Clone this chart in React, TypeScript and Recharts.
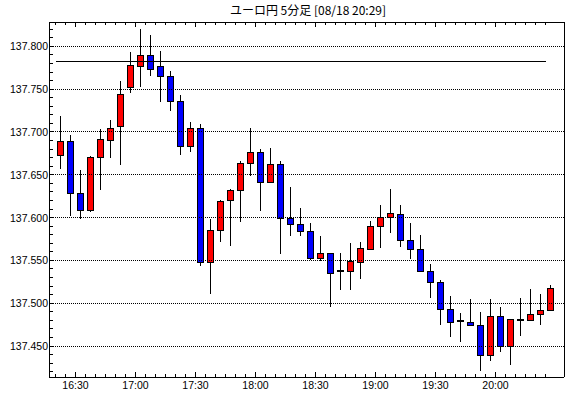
import React from 'react'
import { Bar, ComposedChart, ReferenceLine, XAxis, YAxis } from 'recharts'

// 5-minute candles, first candle starts 16:20
const startTime = '16:20'
const opens = [
  137.672, 137.689, 137.628, 137.608, 137.670, 137.690, 137.706, 137.752, 137.776, 137.789,
  137.777, 137.765, 137.735, 137.683, 137.704, 137.548, 137.585, 137.620, 137.632, 137.663,
  137.676, 137.641, 137.662, 137.599, 137.592, 137.584, 137.552, 137.558, 137.538, 137.537,
  137.548, 137.563, 137.589, 137.600, 137.604, 137.573, 137.563, 137.537, 137.524, 137.493,
  137.479, 137.478, 137.474, 137.439, 137.485, 137.450, 137.480, 137.480, 137.487, 137.491
]
const highs = [
  137.719, 137.696, 137.656, 137.672, 137.703, 137.714, 137.760, 137.793, 137.820, 137.813,
  137.795, 137.771, 137.743, 137.712, 137.709, 137.598, 137.621, 137.633, 137.666, 137.705,
  137.680, 137.681, 137.666, 137.636, 137.611, 137.594, 137.578, 137.558, 137.559, 137.570,
  137.571, 137.596, 137.615, 137.633, 137.615, 137.594, 137.580, 137.546, 137.527, 137.508,
  137.488, 137.505, 137.490, 137.505, 137.496, 137.481, 137.506, 137.517, 137.511, 137.521
]
const lows = [
  137.657, 137.602, 137.598, 137.607, 137.632, 137.669, 137.661, 137.746, 137.752, 137.765,
  137.735, 137.725, 137.673, 137.677, 137.544, 137.511, 137.572, 137.567, 137.595, 137.648,
  137.608, 137.641, 137.558, 137.579, 137.579, 137.551, 137.549, 137.496, 137.515, 137.515,
  137.528, 137.562, 137.565, 137.582, 137.566, 137.552, 137.537, 137.506, 137.474, 137.461,
  137.455, 137.473, 137.421, 137.433, 137.443, 137.428, 137.462, 137.480, 137.474, 137.491
]
const closes = [
  137.689, 137.628, 137.608, 137.670, 137.691, 137.704, 137.744, 137.778, 137.789, 137.773,
  137.765, 137.735, 137.683, 137.704, 137.548, 137.585, 137.619, 137.632, 137.663, 137.676,
  137.641, 137.662, 137.599, 137.592, 137.584, 137.552, 137.558, 137.535, 137.538, 137.549,
  137.564, 137.590, 137.600, 137.605, 137.573, 137.563, 137.537, 137.524, 137.493, 137.478,
  137.479, 137.474, 137.439, 137.485, 137.450, 137.481, 137.480, 137.487, 137.491, 137.517
]
const timeLabels = ['16:30', '17:00', '17:30', '18:00', '18:30', '19:00', '19:30', '20:00']
const priceLabels = [137.45, 137.5, 137.55, 137.6, 137.65, 137.7, 137.75, 137.8]
const baseLine = 137.782
const title = 'ユーロ円 5分足 [08/18 20:29]'

const toMin = (s: string) => {
  const [h, m] = s.split(':').map(Number)
  return h * 60 + m
}

const candles = opens.map((o, i) => ({
  i,
  open: o,
  high: highs[i],
  low: lows[i],
  close: closes[i],
  range: [lows[i], highs[i]]
}))

const timeTicks = timeLabels.map(t => (toMin(t) - toMin(startTime)) / 5 - 0.5)
const minorX = Array.from({ length: 50 }, (_, k) => k - 0.5)
const minorY = Array.from({ length: 41 }, (_, k) => Math.round((137.42 + k * 0.01) * 1000) / 1000)

const labelFont = { fontFamily: '"Liberation Sans", Arial, sans-serif', fontSize: 10.5, fill: '#000' }

const isMajorPrice = (v: number) => Math.abs(v * 20 - Math.round(v * 20)) < 1e-6

const Candle = (props: any) => {
  const { x, y, width, height, payload } = props
  const { open, high, low, close } = payload
  const yTop = Math.min(y, y + height)
  const h = Math.abs(height)
  const cx = Math.floor(x + width / 2) + 0.5
  const py = (v: number) => yTop + ((high - v) / (high - low)) * h
  const top = py(Math.max(open, close))
  const bot = py(Math.min(open, close))
  const color = close > open ? '#ff0000' : '#0000ff'
  return (
    <g>
      <line x1={cx} x2={cx} y1={yTop} y2={yTop + h} stroke="#000" strokeWidth={1} />
      {bot - top < 1.5 ? (
        <line x1={cx - 3.5} x2={cx + 3.5} y1={(top + bot) / 2} y2={(top + bot) / 2} stroke="#000" strokeWidth={2} />
      ) : (
        <rect x={cx - 3} y={top} width={6} height={bot - top} fill={color} stroke="#000" strokeWidth={1} />
      )}
    </g>
  )
}

// plot box edges in pixels
const plotTop = 22
const plotBottom = 377
const plotLeft = 49
const plotRight = 564

const BottomTick = (props: any) => {
  const { x, payload } = props
  const y = plotBottom
  const k = timeTicks.findIndex(t => Math.abs(t - payload.value) < 1e-6)
  return (
    <g>
      <line x1={x} x2={x} y1={y} y2={y - (k >= 0 ? 5 : 3)} stroke="#000" />
      {k >= 0 && (
        <text x={x} y={y + 12} textAnchor="middle" {...labelFont}>
          {timeLabels[k]}
        </text>
      )}
    </g>
  )
}

const TopTick = (props: any) => {
  const { x, payload } = props
  const y = plotTop
  const major = timeTicks.some(t => Math.abs(t - payload.value) < 1e-6)
  return <line x1={x} x2={x} y1={y} y2={y + (major ? 5 : 3)} stroke="#000" />
}

const LeftTick = (props: any) => {
  const { y, payload } = props
  const x = plotLeft
  const major = isMajorPrice(payload.value)
  return (
    <g>
      <line x1={x} x2={x + 4} y1={y} y2={y} stroke="#000" />
      {major && (
        <text x={x - 1} y={y + 4} textAnchor="end" {...labelFont}>
          {payload.value.toFixed(3)}
        </text>
      )}
    </g>
  )
}

const RightTick = (props: any) => {
  const { y } = props
  const x = plotRight
  return <line x1={x} x2={x - 4} y1={y} y2={y} stroke="#000" />
}

const xDomain = [-1.15, 50.35]
const yDomain = [137.4138, 137.8284]

export default function App() {
  return (
    <div style={{ position: 'absolute', left: 0, top: 0, width: 570, height: 398, background: '#fff' }}>
      <style>{'.recharts-surface line, .recharts-surface rect, .recharts-surface path { shape-rendering: crispEdges; }'}</style>
      <div
        style={{
          position: 'absolute',
          left: 0,
          top: 3,
          width: 616,
          textAlign: 'center',
          fontFamily: '"Noto Sans CJK JP", sans-serif',
          fontSize: 12,
          lineHeight: '14px',
          color: '#000'
        }}
      >
        {title}
      </div>
      <ComposedChart width={570} height={398} data={candles} margin={{ top: 21, right: 5, bottom: 20, left: 48 }}>
        <XAxis
          xAxisId="b"
          dataKey="i"
          type="number"
          orientation="bottom"
          domain={xDomain}
          ticks={minorX}
          interval={0}
          height={1}
          tickSize={0}
          tickMargin={0}
          tickLine={false}
          axisLine={{ stroke: '#000' }}
          tick={<BottomTick />}
        />
        <XAxis
          xAxisId="t"
          dataKey="i"
          type="number"
          orientation="top"
          domain={xDomain}
          ticks={minorX}
          interval={0}
          height={1}
          tickSize={0}
          tickMargin={0}
          tickLine={false}
          axisLine={{ stroke: '#000' }}
          tick={<TopTick />}
        />
        <YAxis
          yAxisId="l"
          orientation="left"
          type="number"
          domain={yDomain}
          ticks={minorY}
          interval={0}
          width={1}
          tickSize={0}
          tickMargin={0}
          tickLine={false}
          axisLine={{ stroke: '#000' }}
          tick={<LeftTick />}
        />
        <YAxis
          yAxisId="r"
          orientation="right"
          type="number"
          domain={yDomain}
          ticks={minorY}
          interval={0}
          width={1}
          tickSize={0}
          tickMargin={0}
          tickLine={false}
          axisLine={{ stroke: '#000' }}
          tick={<RightTick />}
        />
        {priceLabels.map(p => (
          <ReferenceLine key={p} xAxisId="b" yAxisId="l" y={p} stroke="#000" strokeDasharray="1 1" />
        ))}
        <ReferenceLine
          xAxisId="b"
          yAxisId="l"
          segment={[
            { x: -0.5, y: baseLine },
            { x: 48.5, y: baseLine }
          ]}
          stroke="#000"
          strokeWidth={1}
        />
        <Bar
          xAxisId="b"
          yAxisId="l"
          dataKey="range"
          barSize={7}
          shape={<Candle />}
          isAnimationActive={false}
        />
      </ComposedChart>
    </div>
  )
}
